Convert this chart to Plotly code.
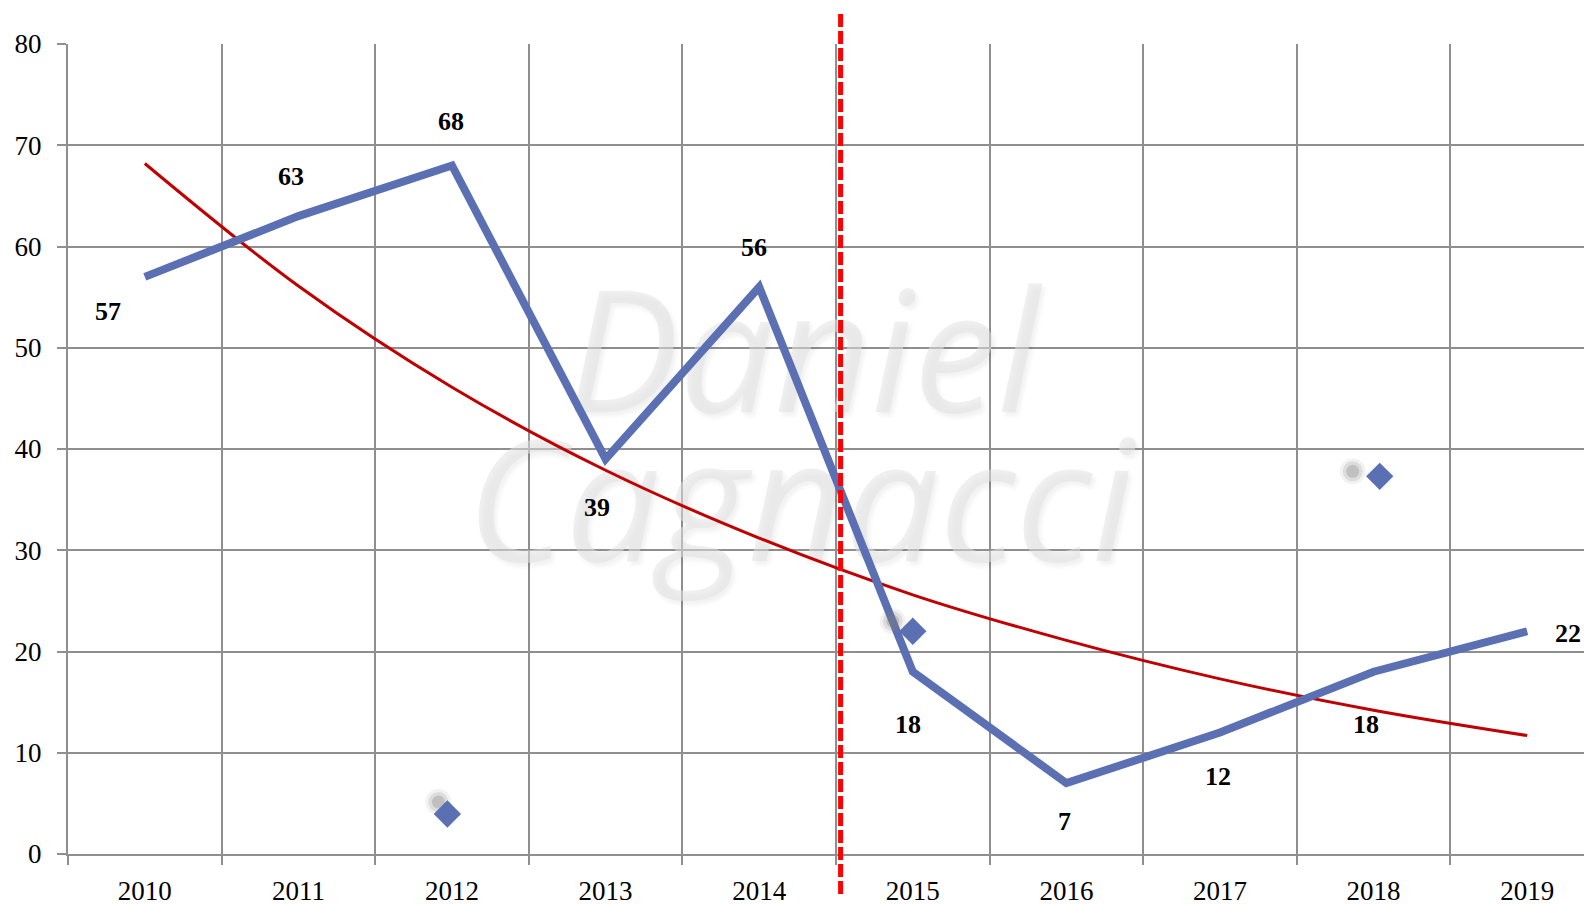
import plotly.graph_objects as go

# ---------------- data ----------------
years = [2010, 2011, 2012, 2013, 2014, 2015, 2016, 2017, 2018, 2019]
values = [57, 63, 68, 39, 56, 18, 7, 12, 18, 22]
trend = [68.2, 56.1, 46.1, 37.9, 31.2, 25.6, 21.1, 17.3, 14.2, 11.7]
diamond_x = [2011.97, 2015.0, 2018.04]
diamond_y = [3.95, 22.0, 37.3]
divider_x = 2014.53
y_ticks = [0, 10, 20, 30, 40, 50, 60, 70, 80]
watermark = ["Daniel", "Cagnacci"]

# ---------------- style ----------------
W, H = 1584, 905
ML, MR, MT, MB = 68, 0, 44, 51
X0, X1 = 2009.5, 2019.37
Y0, Y1 = 0, 80
PW, PH = W - ML - MR, H - MT - MB
px_x = PW / (X1 - X0)
px_y = PH / (Y1 - Y0)

BLUE = "#5B6FB3"
GRID = "#8F8F8F"
FONT = "Liberation Serif"

shadow_off = [(-9, -12), (-20, -10), (-27, -5)]  # pixel offsets of soft shadows
label_off = [(-37, 35), (-7, -40), (-1, -44), (-9, 48), (-5, -40),
             (-5, 53), (-2, 38), (-2, 44), (-8, 53), (41, 2)]
wm_pos_paper = [(0.485, 0.598), (0.483, 0.414)]

fig = go.Figure()

# watermark (drawn first so that the lines sit above it)
fig.add_trace(go.Scatter(
    x=[X0 + px * (X1 - X0) for px, py in wm_pos_paper],
    y=[Y0 + py * (Y1 - Y0) for px, py in wm_pos_paper],
    text=watermark, mode="text", textposition="middle center", cliponaxis=False,
    textfont=dict(family="Open Sans", size=168, color="rgba(226,226,226,0.55)", style="italic",
                  shadow="3px 4px 4px rgba(0,0,0,0.10)"),
    hoverinfo="skip", showlegend=False))

# exponential trend
fig.add_trace(go.Scatter(x=years, y=trend, mode="lines",
                         line=dict(color="#C00000", width=3, shape="spline", smoothing=1.0),
                         hoverinfo="skip", showlegend=False))

# main series
fig.add_trace(go.Scatter(x=years, y=values, mode="lines",
                         line=dict(color=BLUE, width=8), showlegend=False))

# diamond shadows (soft blobs)
sx = [x + dx / px_x for x, (dx, dy) in zip(diamond_x, shadow_off)]
sy = [y - dy / px_y for y, (dx, dy) in zip(diamond_y, shadow_off)]
for size, alpha in [(26, 0.10), (20, 0.18), (13, 0.30)]:
    fig.add_trace(go.Scatter(x=sx, y=sy, mode="markers",
                             marker=dict(symbol="circle", size=size,
                                         color=f"rgba(125,125,125,{alpha})", line=dict(width=0)),
                             showlegend=False, hoverinfo="skip"))
# diamonds
fig.add_trace(go.Scatter(x=diamond_x, y=diamond_y, mode="markers",
                         marker=dict(symbol="diamond", size=21, color=BLUE, line=dict(width=0)),
                         showlegend=False))

# data labels
for x, v, (dx, dy) in zip(years, values, label_off):
    fig.add_annotation(x=x, y=v, xref="x", yref="y", text=str(v), showarrow=False,
                       xshift=dx, yshift=-dy,
                       font=dict(family=FONT, size=26, color="black", weight="bold"))

# red dashed divider
fig.add_shape(type="line", xref="x", yref="paper", x0=divider_x, x1=divider_x,
              y0=-40 / PH, y1=1 + 32 / PH,
              line=dict(color="#FF0000", width=5, dash="13px,4px"), layer="above")

fig.update_layout(
    width=W, height=H,
    margin=dict(l=ML, r=MR, t=MT, b=MB, pad=0, autoexpand=False),
    paper_bgcolor="white", plot_bgcolor="white",
    showlegend=False,
    xaxis=dict(range=[X0, X1], tickvals=years, ticktext=[str(y) for y in years],
               automargin=False,
               showgrid=False, zeroline=False, ticks="", ticklabelstandoff=12,
               tickfont=dict(family=FONT, size=27, color="black"),
               showline=True, linecolor=GRID, linewidth=2,
               minor=dict(tick0=2009.5, dtick=1, showgrid=True, gridcolor=GRID, gridwidth=2,
                          ticks="outside", ticklen=9, tickcolor=GRID, tickwidth=2)),
    yaxis=dict(range=[Y0, Y1], tickvals=y_ticks, showgrid=True, gridcolor=GRID, gridwidth=2,
               automargin=False,
               zeroline=False, ticks="outside", ticklen=9, tickcolor=GRID, tickwidth=2,
               ticklabelstandoff=10,
               tickfont=dict(family=FONT, size=27, color="black"),
               showline=True, linecolor=GRID, linewidth=2),
)

fig.write_html("out.html", config={"displayModeBar": False},
               post_script="document.body.style.margin='0';document.body.style.overflow='hidden';")
